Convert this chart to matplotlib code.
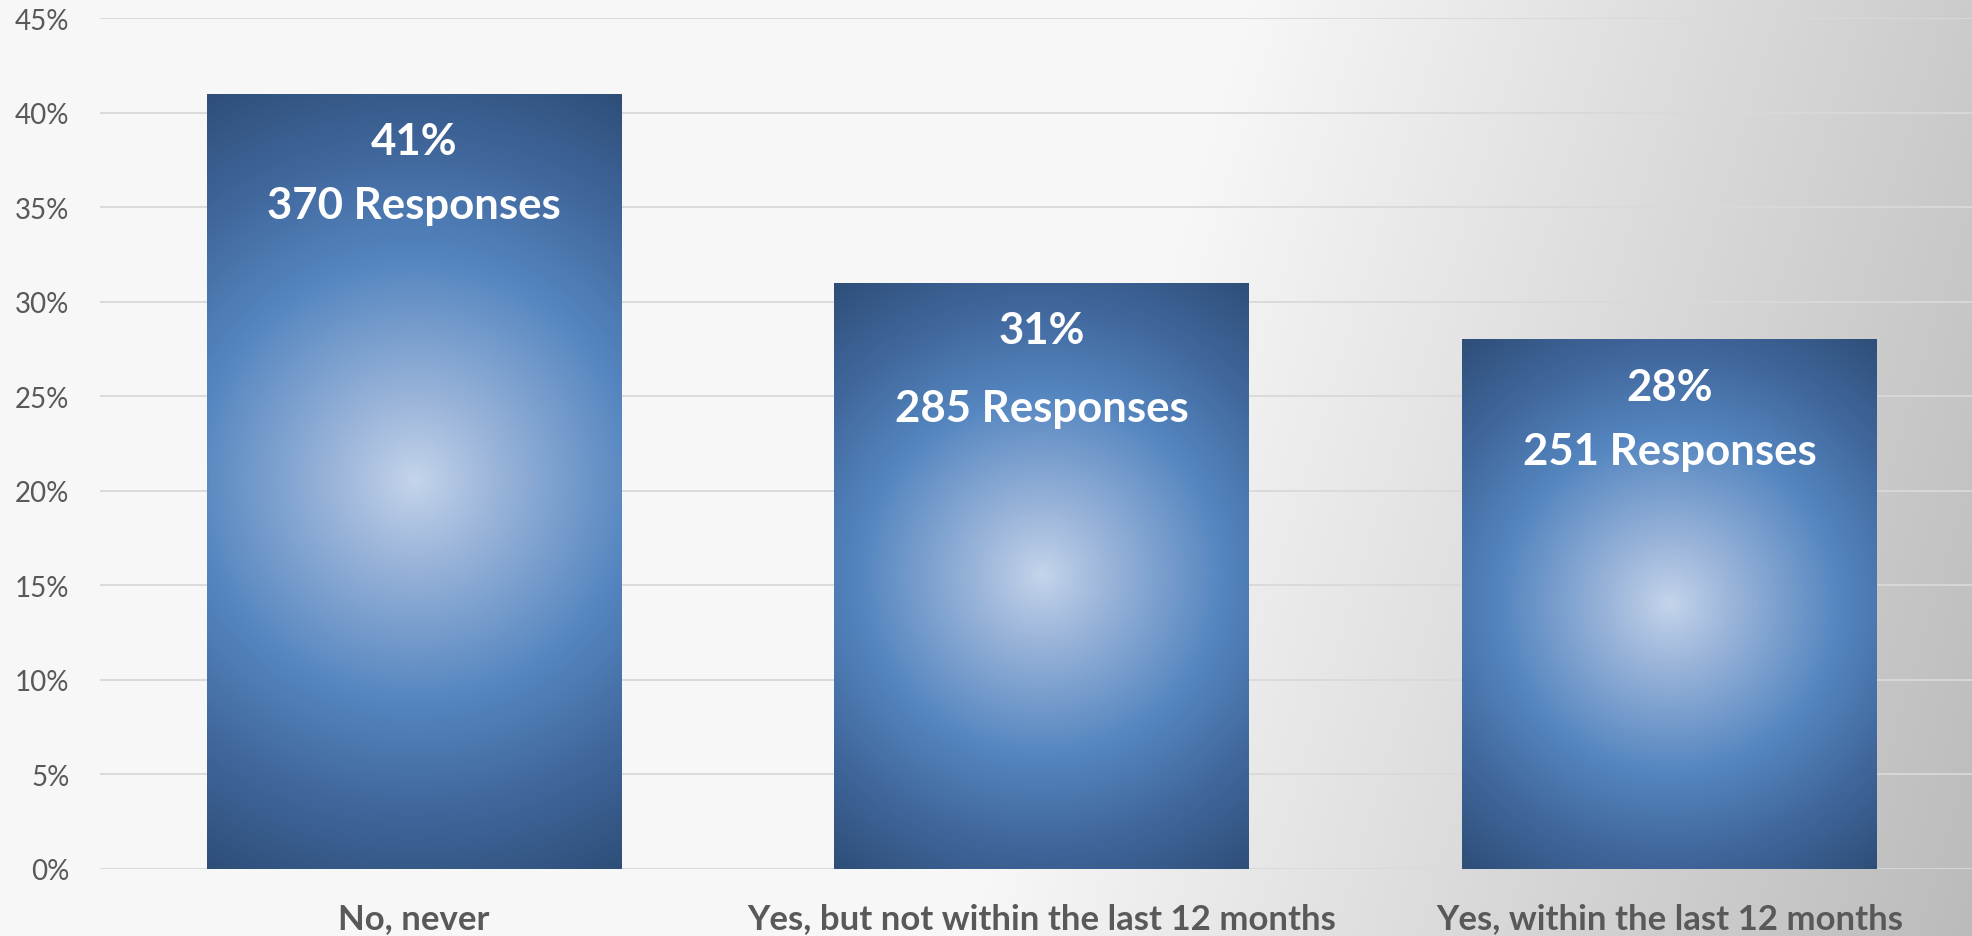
import numpy as np
import matplotlib
matplotlib.use("Agg")
import matplotlib.pyplot as plt
from matplotlib.colors import LinearSegmentedColormap
from matplotlib.ticker import MultipleLocator, PercentFormatter

categories = ["No, never", "Yes, but not within the last 12 months", "Yes, within the last 12 months"]
shares = [0.41, 0.31, 0.28]
responses = [370, 285, 251]

plt.rcParams["font.family"] = ["Lato", "DejaVu Sans"]
GREY = "#595959"

W, H, DPI = 1972, 937, 100
fig = plt.figure(figsize=(W / DPI, H / DPI), dpi=DPI)
fig.patch.set_facecolor("#f7f7f7")

# background: flat light grey that darkens toward the right edge
bg = fig.add_axes([0, 0, 1, 1], zorder=-5)
yy, xx = np.mgrid[0:H, 0:W]
lum = 247 - 0.06 * np.clip(xx + 0.3 * yy - 1250, 0, None)
bg.imshow(np.dstack([lum, lum, lum]).astype(np.uint8), aspect="auto",
          extent=[0, 1, 0, 1], origin="upper", interpolation="bilinear")
bg.set_axis_off()

ax = fig.add_axes([100 / W, 67 / H, 1 - 100 / W, (870 - 19) / H])
ax.patch.set_alpha(0)
ax.set_xlim(-0.5, 2.482)
ax.set_ylim(0, 0.45)

ax.yaxis.set_major_locator(MultipleLocator(0.05))
ax.yaxis.set_major_formatter(PercentFormatter(1.0, decimals=0))
ax.grid(axis="y", color="#d9d9d9", linewidth=1.3)
ax.set_axisbelow(True)
for s in ax.spines.values():
    s.set_visible(False)
ax.tick_params(axis="y", length=0, pad=22, labelsize=20, labelcolor=GREY)
ax.tick_params(axis="x", length=0, pad=24, labelsize=25, labelcolor=GREY)
x = np.arange(len(categories))
ax.set_xticks(x)
ax.set_xticklabels(categories, fontweight="bold")

bar_cmap = LinearSegmentedColormap.from_list(
    "bar", [(0, "#c4d4ea"), (0.18, "#9bb5da"), (0.5, "#5586c0"),
            (0.75, "#40679c"), (1, "#2e4e78")])

bars = ax.bar(x, shares, width=0.66, color="none", edgecolor="none", zorder=2)

# radial fill inside each bar, light centre fading to dark corners
for b in bars:
    x0, y0, bw, bh = b.get_x(), b.get_y(), b.get_width(), b.get_height()
    p0 = ax.transData.transform((x0, y0))
    p1 = ax.transData.transform((x0 + bw, y0 + bh))
    pw, ph = p1 - p0
    nx, ny = int(pw), int(ph)
    gy, gx = np.mgrid[0:ny, 0:nx]
    dx = gx - nx / 2
    dy = gy - ny / 2
    r = np.sqrt(dx ** 2 + dy ** 2) / np.hypot(nx / 2, ny / 2)
    im = ax.imshow(r, cmap=bar_cmap, vmin=0, vmax=1, aspect="auto",
                   extent=[x0, x0 + bw, y0, y0 + bh], origin="lower",
                   interpolation="bilinear", zorder=3)
    im.set_clip_path(b)

# second label line sits a little lower on the middle bar
line_gap = [-80, -90, -80]
for xi, v, n, g in zip(x, shares, responses, line_gap):
    ax.annotate(f"{v:.0%}", (xi, v), xytext=(0, -34), textcoords="offset points",
                ha="center", va="center", color="white", fontsize=31.5,
                fontweight="bold", zorder=4)
    ax.annotate(f"{n} Responses", (xi, v), xytext=(0, g), textcoords="offset points",
                ha="center", va="center", color="white", fontsize=31.5,
                fontweight="bold", zorder=4)

ax.set_xlim(-0.5, 2.482)
ax.set_ylim(0, 0.45)

fig.savefig("out.png", dpi=DPI, facecolor=fig.get_facecolor())
